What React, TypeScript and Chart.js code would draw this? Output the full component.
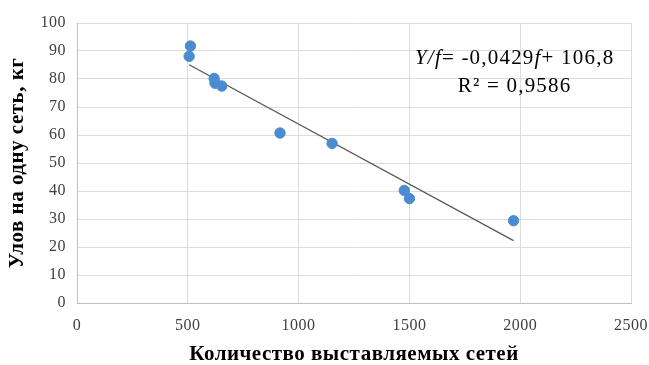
import React, { useEffect, useRef } from "react";
import { Chart, registerables } from "chart.js";

Chart.register(...registerables);

// Number of nets set vs. catch per net (kg)
const netsSet = [506, 512, 619, 623, 653, 916, 1151, 1477, 1500, 1970];
const catchPerNet = [88.1, 91.8, 80.2, 78.5, 77.5, 60.7, 57.0, 40.2, 37.3, 29.4];

// Linear trend: Y/f = slope * f + intercept
const trendSlope = -0.0429;
const trendIntercept = 106.8;
const rSquared = "0,9586";

const xTicks = [0, 500, 1000, 1500, 2000, 2500];
const yTicks = [0, 10, 20, 30, 40, 50, 60, 70, 80, 90, 100];

const xTitle = "Количество выставляемых сетей";
const yTitle = "Улов на одну сеть, кг";

const SERIF = "'Liberation Serif', 'Times New Roman', serif";
const LETTER_SPACING = "0.5px";

// Slightly widened lettering for all canvas text
const spacingPlugin = {
  id: "letterSpacing",
  beforeLayout(chart: any) {
    chart.ctx.letterSpacing = LETTER_SPACING;
  },
  beforeDraw(chart: any) {
    chart.ctx.letterSpacing = LETTER_SPACING;
  },
};

const equationPlugin = {
  id: "equationLabel",
  afterDatasetsDraw(chart: any) {
    const { ctx, chartArea } = chart;
    const cx = chartArea.left + (chartArea.right - chartArea.left) * 0.79;
    const y1 = chartArea.top + 41;
    const y2 = chartArea.top + 69;
    const size = 21;
    const italic = `italic ${size}px ${SERIF}`;
    const normal = `${size}px ${SERIF}`;
    const slopeText = trendSlope.toFixed(4).replace(".", ",");
    const interceptText = trendIntercept.toFixed(1).replace(".", ",");
    const parts: [string, string][] = [
      ["Y/f", italic],
      ["= " + slopeText, normal],
      ["f", italic],
      ["+ " + interceptText, normal],
    ];
    ctx.save();
    ctx.letterSpacing = "1.2px";
    ctx.fillStyle = "#000";
    ctx.textBaseline = "alphabetic";
    ctx.textAlign = "left";
    let total = 0;
    for (const [t, f] of parts) {
      ctx.font = f;
      total += ctx.measureText(t).width;
    }
    let x = cx - total / 2;
    for (const [t, f] of parts) {
      ctx.font = f;
      ctx.fillText(t, x, y1);
      x += ctx.measureText(t).width;
    }
    ctx.font = normal;
    ctx.textAlign = "center";
    ctx.fillText("R² = " + rSquared, cx, y2);
    ctx.restore();
  },
};

export default function App() {
  const canvasRef = useRef<HTMLCanvasElement | null>(null);

  useEffect(() => {
    document.body.style.margin = "0";
    const canvas = canvasRef.current;
    if (!canvas) return;

    const xMin = Math.min(...netsSet);
    const xMax = Math.max(...netsSet);
    const trend = [
      { x: xMin, y: trendSlope * xMin + trendIntercept },
      { x: xMax, y: trendSlope * xMax + trendIntercept },
    ];

    const chart = new Chart(canvas, {
      type: "scatter",
      data: {
        datasets: [
          {
            label: "trend",
            type: "line",
            data: trend,
            borderColor: "#595959",
            borderWidth: 1.3,
            pointRadius: 0,
            fill: false,
            order: 1,
          } as any,
          {
            label: "data",
            data: netsSet.map((v, i) => ({ x: v, y: catchPerNet[i] })),
            backgroundColor: "#4a8ccf",
            borderColor: "#4a8ccf",
            pointRadius: 5.2,
            order: 0,
          },
        ],
      },
      options: {
        animation: false,
        responsive: false,
        maintainAspectRatio: false,
        layout: { padding: { left: 0, right: 18, top: 23, bottom: 0 } },
        plugins: {
          legend: { display: false },
          tooltip: { enabled: false },
        },
        scales: {
          x: {
            type: "linear",
            min: 0,
            max: 2500,
            afterBuildTicks(scale: any) {
              scale.ticks = xTicks.map((v) => ({ value: v }));
            },
            afterFit(scale: any) {
              scale.height = 62;
              scale.paddingLeft = 0;
              scale.paddingRight = 0;
            },
            grid: { color: "#dcdcdc", drawTicks: false },
            border: { color: "#bfbfbf" },
            ticks: {
              padding: 13,
              color: "#404040",
              font: { family: SERIF, size: 16 },
              callback: (v: any) => String(v),
            },
            title: {
              display: true,
              text: xTitle,
              color: "#000",
              font: { family: SERIF, size: 21, weight: "bold" },
              padding: { top: 0, bottom: -2 },
            },
          },
          y: {
            type: "linear",
            min: 0,
            max: 100,
            afterBuildTicks(scale: any) {
              scale.ticks = yTicks.map((v) => ({ value: v }));
            },
            afterFit(scale: any) {
              scale.width = 77;
            },
            grid: { color: "#dcdcdc", drawTicks: false },
            border: { color: "#bfbfbf" },
            ticks: {
              padding: 11,
              color: "#404040",
              font: { family: SERIF, size: 16 },
              callback: (v: any) => String(v),
            },
            title: {
              display: true,
              text: yTitle,
              color: "#000",
              font: { family: SERIF, size: 21, weight: "bold" },
              padding: { top: 5, bottom: 0 },
            },
          },
        },
      },
      plugins: [spacingPlugin, equationPlugin],
    });

    return () => chart.destroy();
  }, []);

  return (
    <div style={{ width: 649, height: 365, background: "#fff" }}>
      <canvas ref={canvasRef} width={649} height={365} />
    </div>
  );
}
